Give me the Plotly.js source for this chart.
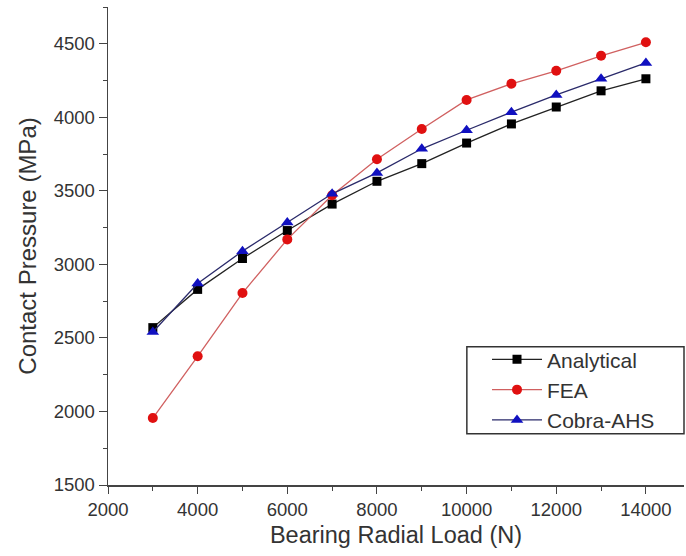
<!DOCTYPE html>
<html>
<head>
<meta charset="utf-8">
<script src="https://cdn.plot.ly/plotly-3.0.1.min.js"></script>
<style>html,body{margin:0;padding:0;background:#fff;}#chart{width:686px;height:556px;}</style>
</head>
<body>
<div id="chart"></div>
<script>
const loads = [3000, 4000, 5000, 6000, 7000, 8000, 9000, 10000, 11000, 12000, 13000, 14000];
const analytical = [2570, 2830, 3040, 3230, 3410, 3565, 3685, 3825, 3955, 4070, 4180, 4262];
const fea = [1955, 2375, 2805, 3170, 3470, 3715, 3920, 4118, 4228, 4316, 4418, 4510];
const cobra = [2540, 2870, 3090, 3285, 3480, 3622, 3786, 3912, 4035, 4152, 4262, 4370];
const seriesNames = ["Analytical", "FEA", "Cobra-AHS"];

const traces = [
  {x: loads, y: analytical, name: seriesNames[0], mode: "lines+markers",
   line: {color: "#222", width: 1.3}, marker: {symbol: "square", size: 9, color: "#000"}},
  {x: loads, y: fea, name: seriesNames[1], mode: "lines+markers",
   line: {color: "#d06060", width: 1.3}, marker: {symbol: "circle", size: 10, color: "#e01010"}},
  {x: loads, y: cobra, name: seriesNames[2], mode: "lines+markers",
   line: {color: "#2a2a6a", width: 1.3}, marker: {symbol: "triangle-up", size: 11, color: "#1010c0"}}
];

const tickFont = {family: "Liberation Sans, Arial, sans-serif", size: 18.5, color: "#333"};
const layout = {
  width: 686, height: 556,
  margin: {l: 108, r: 2, t: 7, b: 71},
  paper_bgcolor: "#fff", plot_bgcolor: "#fff",
  showlegend: true,
  font: {family: "Liberation Sans, Arial, sans-serif", color: "#333"},
  xaxis: {
    range: [2000, 14850], dtick: 2000, tick0: 2000, tickformat: "d",
    showgrid: false, zeroline: false,
    showline: true, linecolor: "#444", linewidth: 1.5,
    ticks: "outside", ticklen: 7, tickcolor: "#444",
    minor: {dtick: 1000, ticklen: 4, tickcolor: "#444", ticks: "outside"},
    tickfont: tickFont,
    title: {text: "Bearing Radial Load (N)", font: {size: 23.5, color: "#333"}, standoff: 8}
  },
  yaxis: {
    range: [1500, 4750], dtick: 500, tick0: 1500, tickformat: "d",
    showgrid: false, zeroline: false,
    showline: true, linecolor: "#444", linewidth: 1.5,
    ticks: "outside", ticklen: 8, tickcolor: "#444",
    minor: {dtick: 250, ticklen: 4, tickcolor: "#444", ticks: "outside"},
    tickfont: tickFont,
    title: {text: "Contact Pressure (MPa)", font: {size: 24, color: "#333"}, standoff: 10}
  },
  shapes: [{
    type: "rect", xref: "paper", yref: "paper",
    x0: 0.623, x1: 1.0, y0: 0.107, y1: 0.289,
    line: {color: "#333", width: 1.5}, fillcolor: "rgba(0,0,0,0)", layer: "above"
  }],
  legend: {
    x: 0.658, y: 0.305, xanchor: "left", yanchor: "top",
    borderwidth: 0, bgcolor: "rgba(0,0,0,0)",
    font: {size: 21, color: "#333"},
    itemwidth: 50,
    tracegroupgap: 0
  }
};

Plotly.newPlot("chart", traces, layout, {displayModeBar: false, staticPlot: true});
</script>
</body>
</html>
